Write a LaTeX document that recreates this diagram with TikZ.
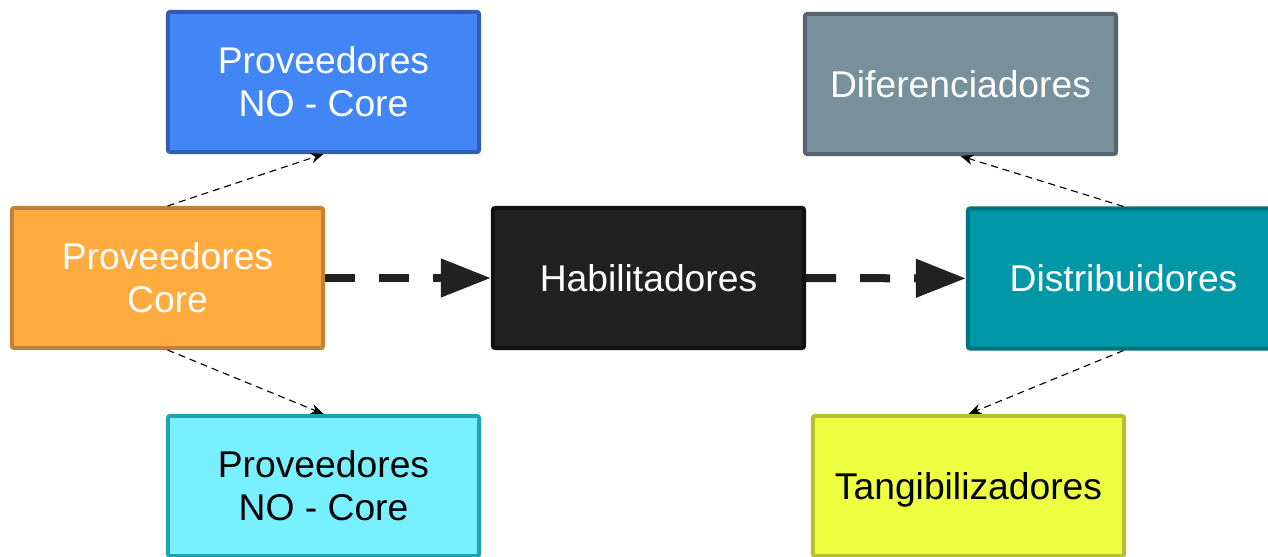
\documentclass[tikz,border=0pt]{standalone}
\usepackage{fontspec}
\setmainfont{Liberation Sans}
\usepackage{tikz}
\usetikzlibrary{arrows.meta,positioning}

\definecolor{provblue}{HTML}{4285F4}
\definecolor{provblueline}{HTML}{305EB2}
\definecolor{provorange}{HTML}{FFAB40}
\definecolor{provorangeline}{HTML}{C0823A}
\definecolor{provcyan}{HTML}{78F0FF}
\definecolor{provcyanline}{HTML}{1FA3AC}
\definecolor{habblack}{HTML}{212121}
\definecolor{habblackline}{HTML}{111111}
\definecolor{difgray}{HTML}{78909C}
\definecolor{difgrayline}{HTML}{56656E}
\definecolor{distteal}{HTML}{0097A7}
\definecolor{disttealline}{HTML}{00747E}
\definecolor{tangyellow}{HTML}{EEFF41}
\definecolor{tangyellowline}{HTML}{B5BF30}

\begin{document}
\begin{tikzpicture}[
    x=0.025cm, y=-0.025cm,
    box/.style={draw, line width=0.1cm, rounded corners=1.5pt, minimum width=7.775cm, minimum height=3.5cm, align=center, text=white, font=\fontsize{26.5}{30.6}\selectfont},
    arr/.style={-{Stealth[length=0.32cm, width=0.26cm]}, line width=0.8pt, dash pattern=on 5pt off 3.5pt},
    bigarr/.style={-{Triangle[length=1.25cm, width=0.92cm]}, line width=0.2cm, dash pattern=on 0.75cm off 0.6cm, habblack}
]
\useasboundingbox (0,0) rectangle (1268,557);
\node[box, fill=provblue, draw=provblueline] (nocoreup) at (323.5,82) {Proveedores\\NO - Core};
\node[box, fill=provorange, draw=provorangeline] (core) at (167.5,278) {Proveedores\\Core};
\node[box, fill=provcyan, draw=provcyanline, text=black] (nocoredown) at (323.5,486) {Proveedores\\NO - Core};
\node[box, fill=habblack, draw=habblackline] (hab) at (648.5,278) {Habilitadores};
\node[box, fill=difgray, draw=difgrayline] (dif) at (960.5,84) {Diferenciadores};
\node[box, fill=distteal, draw=disttealline] (dist) at (1123.5,278.5) {Distribuidores};
\node[box, fill=tangyellow, draw=tangyellowline, text=black, text depth=0pt] (tang) at (968.5,486) {Tangibilizadores};
% main chain
\draw[bigarr] (core) -- (hab);
\draw[bigarr] (hab) -- (dist);
% side links
\draw[arr] (core.north) -- (nocoreup.south);
\draw[arr] (core.south) -- (nocoredown.north);
\draw[arr] (dist.north) -- (dif.south);
\draw[arr] (dist.south) -- (tang.north);
\end{tikzpicture}
\end{document}
